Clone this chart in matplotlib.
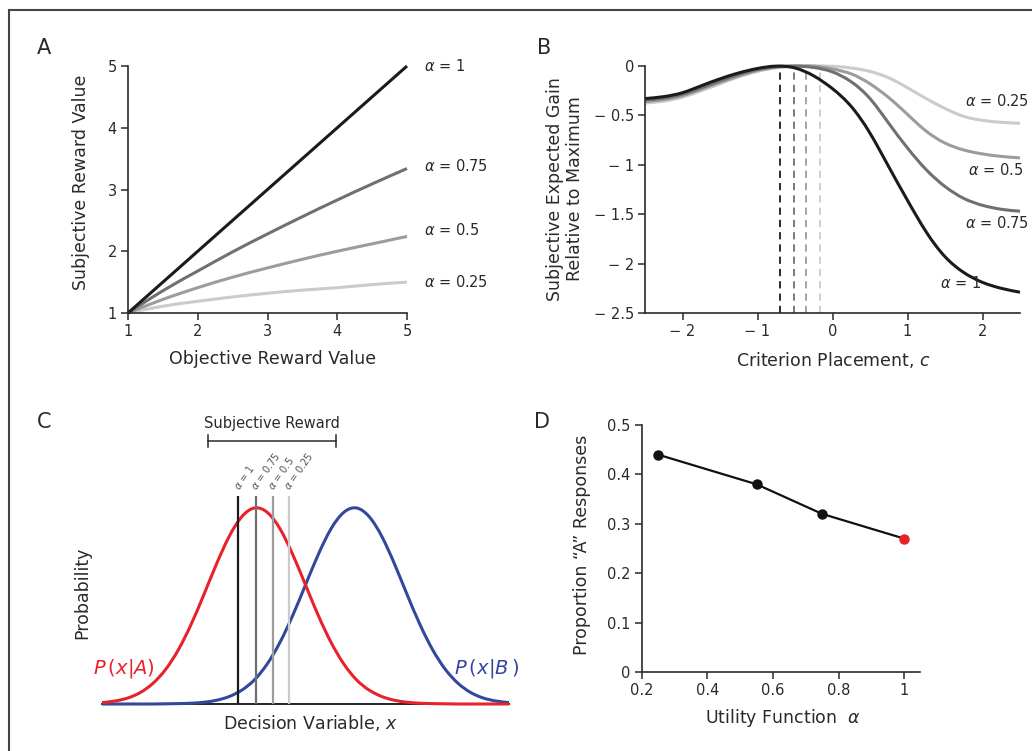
import numpy as np
import matplotlib.pyplot as plt
from matplotlib.path import Path
from matplotlib.patches import PathPatch
from matplotlib.lines import Line2D

W, H = 1032, 751

# ---------------- data ----------------
# Panel A: subjective vs objective reward
obj_reward = [1, 1.5, 2, 2.5, 3, 3.5, 4, 4.5, 5]
subj_a100 = [1, 1.5, 2, 2.5, 3, 3.5, 4, 4.5, 5]
subj_a075 = [1, 1.36, 1.68, 1.99, 2.28, 2.56, 2.83, 3.09, 3.34]
subj_a050 = [1, 1.22, 1.41, 1.58, 1.73, 1.87, 2.0, 2.12, 2.24]
subj_a025 = [1, 1.11, 1.19, 1.26, 1.32, 1.37, 1.41, 1.46, 1.50]

# Panel B: expected gain relative to maximum vs criterion
criterion = [-2.5, -2.25, -2.0, -1.75, -1.5, -1.25, -1.0, -0.75, -0.5, -0.25, 0.0,
             0.25, 0.5, 0.75, 1.0, 1.25, 1.5, 1.75, 2.0, 2.25, 2.5]
gain_a100 = [-0.33, -0.31, -0.27, -0.20, -0.13, -0.07, -0.025, -0.001, -0.02, -0.10, -0.23,
             -0.41, -0.68, -1.02, -1.36, -1.68, -1.93, -2.09, -2.19, -2.25, -2.29]
gain_a075 = [-0.345, -0.325, -0.285, -0.22, -0.15, -0.085, -0.035, -0.008, 0.0, -0.015, -0.06,
             -0.16, -0.33, -0.58, -0.83, -1.05, -1.22, -1.34, -1.41, -1.45, -1.47]
gain_a050 = [-0.36, -0.34, -0.30, -0.235, -0.165, -0.10, -0.045, -0.013, -0.002, -0.001, -0.03,
             -0.08, -0.18, -0.32, -0.49, -0.66, -0.78, -0.85, -0.89, -0.915, -0.93]
gain_a025 = [-0.375, -0.355, -0.315, -0.25, -0.18, -0.11, -0.055, -0.018, -0.004, 0.0, -0.003,
             -0.02, -0.055, -0.12, -0.22, -0.33, -0.43, -0.51, -0.55, -0.57, -0.58]
optimal_c = [-0.70, -0.52, -0.35, -0.17]

# Panel C: decision-variable distributions (peak height = 1)
decision_x = [-4, -3.75, -3.5, -3.25, -3, -2.75, -2.5, -2.25, -2, -1.75, -1.5, -1.25, -1,
              -0.75, -0.5, -0.25, 0, 0.25, 0.5, 0.75, 1, 1.25, 1.5, 1.75, 2, 2.25, 2.5,
              2.75, 3, 3.25, 3.5, 3.75, 4]
prob_A = [0.007, 0.015, 0.030, 0.058, 0.105, 0.176, 0.276, 0.405, 0.556, 0.713, 0.854,
          0.955, 0.999, 0.976, 0.892, 0.761, 0.607, 0.452, 0.315, 0.205, 0.124, 0.071,
          0.038, 0.019, 0.009, 0.004, 0.002, 0.001, 0.0, 0.0, 0.0, 0.0, 0.0]
prob_B = prob_A[::-1]
criteria_c = [-1.32, -0.98, -0.645, -0.325]
alpha_names = ["1", "0.75", "0.5", "0.25"]
reward_span = [-1.91, 0.59]

# Panel D: proportion "A" responses vs alpha
alpha_d = [0.25, 0.55, 0.75, 1.0]
prop_A = [0.44, 0.38, 0.32, 0.27]

GREYS = ["#1b1b1b", "#707070", "#9c9c9c", "#cbcbcb"]
TXT = "#2a2a2a"
RED = "#e8222b"
BLUE = "#33489c"


def fx(px):
    return px / W


def fy(py):
    return 1 - py / H


def add_axes(left, top, right, bottom):
    return fig.add_axes([fx(left), fy(bottom), (right - left) / W, (bottom - top) / H])


def smooth(ax, xs, ys, **kw):
    # natural cubic spline through the points, drawn as Bezier segments
    x = np.asarray(xs, float)
    y = np.asarray(ys, float)
    n = len(x)
    h = np.diff(x)
    A = np.zeros((n, n))
    r = np.zeros(n)
    A[0, 0] = A[-1, -1] = 1
    for i in range(1, n - 1):
        A[i, i - 1] = h[i - 1]
        A[i, i] = 2 * (h[i - 1] + h[i])
        A[i, i + 1] = h[i]
        r[i] = 6 * ((y[i + 1] - y[i]) / h[i] - (y[i] - y[i - 1]) / h[i - 1])
    M = np.linalg.solve(A, r)
    verts = [(x[0], y[0])]
    codes = [Path.MOVETO]
    for i in range(n - 1):
        d = (y[i + 1] - y[i]) / h[i]
        s0 = d - h[i] * (2 * M[i] + M[i + 1]) / 6
        s1 = d + h[i] * (M[i] + 2 * M[i + 1]) / 6
        verts += [(x[i] + h[i] / 3, y[i] + s0 * h[i] / 3),
                  (x[i + 1] - h[i] / 3, y[i + 1] - s1 * h[i] / 3),
                  (x[i + 1], y[i + 1])]
        codes += [Path.CURVE4] * 3
    ax.add_patch(PathPatch(Path(verts, codes), fill=False, clip_on=False, **kw))


def style_axes(ax):
    for s in ["top", "right"]:
        ax.spines[s].set_visible(False)
    for s in ["left", "bottom"]:
        ax.spines[s].set_linewidth(1.2)
        ax.spines[s].set_color(TXT)
    ax.tick_params(direction="out", length=5, width=1.1, color=TXT,
                   labelsize=10.5, labelcolor=TXT, pad=3)


plt.rcParams["font.family"] = ["DejaVu Sans"]
fig = plt.figure(figsize=(W / 100, H / 100), dpi=100)

# frame
fig.add_artist(Line2D([fx(8.5), 1], [fy(10), fy(10)], color="#444444", lw=1.5))
fig.add_artist(Line2D([fx(8.5), fx(8.5)], [fy(10), 0], color="#444444", lw=1.5))

# ---------------- A ----------------
axA = add_axes(128, 66, 407, 313)
style_axes(axA)
for ys, c in zip([subj_a025, subj_a050, subj_a075, subj_a100], GREYS[::-1]):
    smooth(axA, obj_reward, ys, edgecolor=c, lw=2.2, capstyle="butt")
axA.set_xlim(1, 5)
axA.set_ylim(1, 5)
axA.set_xticks([1, 2, 3, 4, 5])
axA.set_yticks([1, 2, 3, 4, 5])
for name, yv in zip(alpha_names, [5.0, 3.38, 2.34, 1.5]):
    axA.text(5.25, yv, r"$\alpha$ = " + name, fontsize=10.5, color=TXT,
             ha="left", va="center", clip_on=False)
fig.text(fx(273), fy(359), "Objective Reward Value", fontsize=12.5, color=TXT,
         ha="center", va="center")
fig.text(fx(81), fy(182), "Subjective Reward Value", fontsize=12.5, color=TXT,
         ha="center", va="center", rotation=90)

# ---------------- B ----------------
axB = add_axes(645, 66, 1020, 313)
style_axes(axB)
for xc, c in zip(optimal_c, GREYS):
    axB.plot([xc, xc], [-2.5, 0], color=c, lw=1.3, ls=(0, (4, 2.8)), zorder=1)
for ys, c in zip([gain_a025, gain_a050, gain_a075, gain_a100], GREYS[::-1]):
    smooth(axB, criterion, ys, edgecolor=c, lw=2.2, capstyle="butt", zorder=2)
axB.set_xlim(-2.5, 2.5)
axB.set_ylim(-2.5, 0)
axB.set_xticks([-2, -1, 0, 1, 2])
axB.set_xticklabels(["\u2212 2", "\u2212 1", "0", "1", "2"])
axB.set_yticks([0, -0.5, -1, -1.5, -2, -2.5])
axB.set_yticklabels(["0", "\u2212 0.5", "\u2212 1", "\u2212 1.5", "\u2212 2", "\u2212 2.5"])
for name, xy in zip(alpha_names, [(1.44, -2.20), (1.77, -1.59), (1.81, -1.05), (1.77, -0.35)]):
    axB.text(xy[0], xy[1], r"$\alpha$ = " + name, fontsize=10.5, color=TXT,
             ha="left", va="center", clip_on=False)
fig.text(fx(833), fy(360), r"Criterion Placement, $c$", fontsize=12.5, color=TXT,
         ha="center", va="center")
fig.text(fx(565), fy(189), "Subjective Expected Gain\nRelative to Maximum", fontsize=12.5,
         color=TXT, ha="center", va="center", rotation=90, linespacing=1.2)

# ---------------- C ----------------
axC = add_axes(102, 390, 509, 704)
for s in ["top", "right", "left"]:
    axC.spines[s].set_visible(False)
axC.spines["bottom"].set_color("#111111")
axC.spines["bottom"].set_linewidth(1.3)
axC.set_xticks([])
axC.set_yticks([])
axC.set_xlim(-4, 4)
axC.set_ylim(0, 1.6)
smooth(axC, decision_x, prob_B, edgecolor=BLUE, lw=2.2, zorder=3)
smooth(axC, decision_x, prob_A, edgecolor=RED, lw=2.2, zorder=4)
for xc, c, name in zip(criteria_c, GREYS, alpha_names):
    axC.plot([xc, xc], [0, 1.06], color=c, lw=1.6, zorder=5, solid_capstyle="butt")
    axC.text(xc - 0.05, 1.10, r"$\alpha$ = " + name, fontsize=7, color="#555555",
             rotation=55, rotation_mode="anchor", ha="left", va="center")
axC.plot(reward_span, [1.339, 1.339], color=TXT, lw=1.1, clip_on=False)
for xb in reward_span:
    axC.plot([xb, xb], [1.31, 1.37], color=TXT, lw=1.1, clip_on=False)
axC.text(np.mean(reward_span), 1.43, "Subjective Reward", fontsize=10.5, color=TXT,
         ha="center", va="center")
fig.text(fx(124), fy(669), r"$P\,(x|A)$", fontsize=14, color=RED,
         ha="center", va="center")
fig.text(fx(487), fy(669), r"$P\,(x|B\,)$", fontsize=14, color=BLUE,
         ha="center", va="center")
fig.text(fx(310), fy(723), r"Decision Variable, $x$", fontsize=12.5, color=TXT,
         ha="center", va="center")
fig.text(fx(82), fy(593), "Probability", fontsize=12.5, color=TXT,
         ha="center", va="center", rotation=90)

# ---------------- D ----------------
axD = add_axes(641.7, 425, 920, 672)
style_axes(axD)
axD.plot(alpha_d, prop_A, color="#111111", lw=1.6, zorder=2)
axD.plot(alpha_d[:-1], prop_A[:-1], "o", color="#111111", ms=6.5, zorder=3)
axD.plot(alpha_d[-1:], prop_A[-1:], "o", color=RED, ms=6.5, zorder=3)
axD.set_xlim(0.2, 1.048)
axD.set_ylim(0, 0.5)
axD.set_xticks([0.2, 0.4, 0.6, 0.8, 1.0])
axD.set_xticklabels(["0.2", "0.4", "0.6", "0.8", "1"])
axD.set_yticks([0, 0.1, 0.2, 0.3, 0.4, 0.5])
axD.set_yticklabels(["0", "0.1", "0.2", "0.3", "0.4", "0.5"])
fig.text(fx(783), fy(718), r"Utility Function  $\alpha$", fontsize=12.5, color=TXT,
         ha="center", va="center")
fig.text(fx(582), fy(545), "Proportion \u201cA\u201d Responses", fontsize=12.5, color=TXT,
         ha="center", va="center", rotation=90)

# panel letters
for letter, (px, py) in zip("ABCD", [(44, 48), (544, 48), (44, 422), (542, 422)]):
    fig.text(fx(px), fy(py), letter, fontsize=15, color=TXT, ha="center", va="center")

fig.savefig("out.png", dpi=100)
